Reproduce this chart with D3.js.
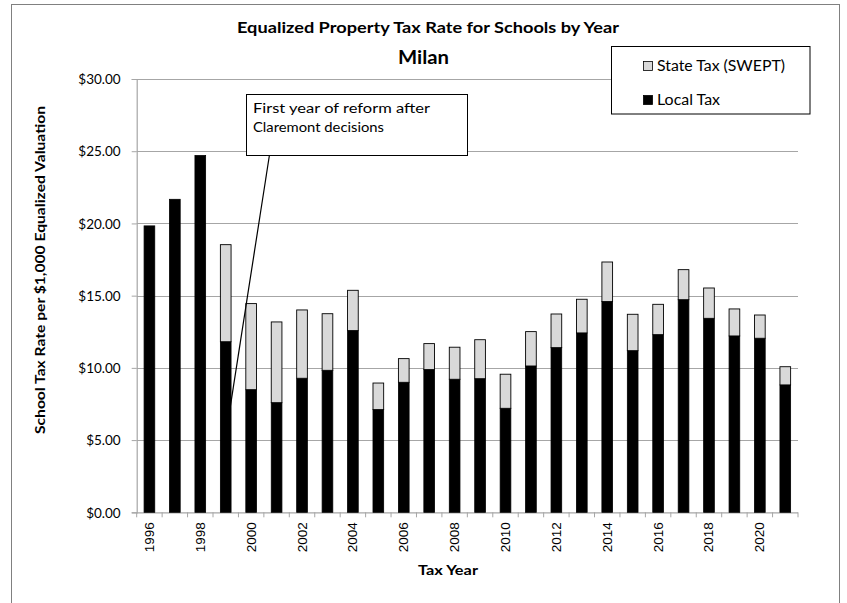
<!DOCTYPE html>
<html>
<head>
<meta charset="utf-8">
<script src="https://cdn.jsdelivr.net/npm/d3@7"></script>
<style>
  html, body { margin: 0; padding: 0; background: #fff; }
  svg { display: block; }
  text { fill: #000; }
</style>
</head>
<body>
<svg id="chart" width="847" height="603"></svg>
<script>
const years = [1996,1997,1998,1999,2000,2001,2002,2003,2004,2005,2006,2007,2008,2009,2010,2011,2012,2013,2014,2015,2016,2017,2018,2019,2020,2021];
const localTax = [19.83,21.67,24.70,11.81,8.49,7.59,9.28,9.83,12.58,7.11,9.00,9.88,9.21,9.25,7.20,10.13,11.40,12.42,14.59,11.19,12.30,14.72,13.43,12.21,12.05,8.82];
const stateTax = [0,0,0,6.72,5.96,5.59,4.73,3.92,2.79,1.84,1.64,1.80,2.22,2.70,2.36,2.38,2.33,2.33,2.74,2.52,2.10,2.08,2.10,1.87,1.61,1.26];
const yTicks = [0,5,10,15,20,25,30];
const seriesNames = ["State Tax (SWEPT)", "Local Tax"];
const titleText = "Equalized Property Tax Rate for Schools by Year";
const subtitleText = "Milan";
const yLabel = "School Tax Rate per $1,000 Equalized Valuation";
const xLabel = "Tax Year";
const noteLines = ["First year of reform after", "Claremont decisions"];
const noteYear = 1999;
const noteValue = 5.5;

const FONT = "Lato, 'Open Sans', sans-serif";
const svg = d3.select("#chart");
const m = {left: 136.7, right: 798, top: 79, bottom: 512.3};

const x = d3.scaleBand().domain(years).range([m.left, m.right]).paddingInner(0.58).paddingOuter(0.29);
const y = d3.scaleLinear().domain([0, 30]).range([m.bottom, m.top]);

// outer border
svg.append("rect").attr("x", 11.5).attr("y", 4.5).attr("width", 828).attr("height", 640)
  .attr("fill", "none").attr("stroke", "#808080").attr("stroke-width", 1);

// gridlines
svg.append("g").selectAll("line").data(yTicks.filter(d => d > 0)).join("line")
  .attr("x1", m.left).attr("x2", m.right)
  .attr("y1", d => Math.round(y(d)) + 0.5).attr("y2", d => Math.round(y(d)) + 0.5)
  .attr("stroke", "#a6a6a6").attr("stroke-width", 1.2);

// y axis
const yAxis = d3.axisLeft(y).tickValues(yTicks).tickSize(5).tickFormat(d => "$" + d3.format(".2f")(d));
const gy = svg.append("g").attr("transform", `translate(${m.left},0)`).call(yAxis);
gy.select(".domain").attr("stroke", "#a6a6a6").attr("stroke-width", 1.2);
gy.selectAll(".tick line").attr("stroke", "#a6a6a6");
gy.selectAll(".tick text").style("font-family", FONT).style("font-size", "13.5px").attr("fill", "#000")
  .attr("x", -16).attr("dy", "0.35em");

// x axis
const gx = svg.append("g").attr("transform", `translate(0,${m.bottom})`);
gx.append("line").attr("x1", m.left).attr("x2", m.right).attr("y1", 0.5).attr("y2", 0.5)
  .attr("stroke", "#a6a6a6").attr("stroke-width", 1.2);
const step = x.step();
const bounds = d3.range(years.length + 1).map(i => m.left + i * step);
gx.selectAll("line.tk").data(bounds).join("line").attr("class", "tk")
  .attr("x1", d => d).attr("x2", d => d).attr("y1", 0).attr("y2", 5)
  .attr("stroke", "#a6a6a6");
gx.selectAll("text").data(years.filter((d, i) => i % 2 === 0)).join("text")
  .attr("transform", d => `translate(${x(d) + x.bandwidth() / 2 + 4.5},10) rotate(-90)`)
  .attr("text-anchor", "end")
  .style("font-family", "'Liberation Sans', Arial, sans-serif")
  .style("font-size", "13px")
  .attr("textLength", 30).attr("lengthAdjust", "spacingAndGlyphs")
  .text(d => d);

// bars
const stack = years.map((yr, i) => ({year: yr, local: localTax[i], state: stateTax[i]}));
const gb = svg.append("g");
gb.selectAll("rect.local").data(stack).join("rect").attr("class", "local")
  .attr("x", d => x(d.year)).attr("width", x.bandwidth())
  .attr("y", d => y(d.local)).attr("height", d => y(0) - y(d.local))
  .attr("fill", "#000").attr("stroke", "#000").attr("stroke-width", 0.8);
gb.selectAll("rect.state").data(stack.filter(d => d.state > 0)).join("rect").attr("class", "state")
  .attr("x", d => x(d.year)).attr("width", x.bandwidth())
  .attr("y", d => y(d.local + d.state)).attr("height", d => y(d.local) - y(d.local + d.state))
  .attr("fill", "#d9d9d9").attr("stroke", "#000").attr("stroke-width", 0.9);

function txt(sel) { return sel.style("font-family", FONT); }

// titles
txt(svg.append("text")).attr("x", 428).attr("y", 33).attr("text-anchor", "middle")
  .style("font-size", "16px").style("font-weight", "bold").attr("textLength", 382).attr("lengthAdjust", "spacingAndGlyphs")
  .text(titleText);
txt(svg.append("text")).attr("x", 423.5).attr("y", 64).attr("text-anchor", "middle")
  .style("font-size", "18px").style("font-weight", "bold").attr("textLength", 51).attr("lengthAdjust", "spacingAndGlyphs")
  .text(subtitleText);
txt(svg.append("text")).attr("transform", "translate(45,270) rotate(-90)").attr("text-anchor", "middle")
  .style("font-size", "14px").style("font-weight", "bold").attr("textLength", 328).attr("lengthAdjust", "spacingAndGlyphs")
  .text(yLabel);
txt(svg.append("text")).attr("x", 448).attr("y", 575).attr("text-anchor", "middle")
  .style("font-size", "14px").style("font-weight", "bold").attr("textLength", 60).attr("lengthAdjust", "spacingAndGlyphs")
  .text(xLabel);

// legend
const lg = svg.append("g");
lg.append("rect").attr("x", 611.5).attr("y", 46.5).attr("width", 198.5).attr("height", 67.5)
  .attr("fill", "#fff").attr("stroke", "#000").attr("stroke-width", 1);
const legendFills = ["#d9d9d9", "#000"];
seriesNames.forEach((n, i) => {
  const ly = 63 + i * 34;
  lg.append("rect").attr("x", 643.5).attr("y", ly - 1.5).attr("width", 9).attr("height", 9)
    .attr("fill", legendFills[i]).attr("stroke", "#000").attr("stroke-width", 0.8);
  txt(lg.append("text")).attr("x", 657).attr("y", ly + 8).style("font-size", "14.5px")
    .attr("textLength", i === 0 ? 128 : 63).attr("lengthAdjust", "spacingAndGlyphs").text(n);
});

// annotation
const ax = x(noteYear) + x.bandwidth() / 2 + 0.5;
const ay = y(noteValue);
const sx = 269.3, sy = 156;
svg.append("line").attr("x1", sx).attr("y1", sy).attr("x2", ax).attr("y2", ay)
  .attr("stroke", "#000").attr("stroke-width", 1.2);
const ang = Math.atan2(ay - sy, ax - sx);
const ah = 5;
svg.append("path")
  .attr("d", `M${ax - ah * Math.cos(ang - 0.5)},${ay - ah * Math.sin(ang - 0.5)} L${ax},${ay} L${ax - ah * Math.cos(ang + 0.5)},${ay - ah * Math.sin(ang + 0.5)}`)
  .attr("fill", "none").attr("stroke", "#000").attr("stroke-width", 1.2);
svg.append("rect").attr("x", 246.5).attr("y", 94.5).attr("width", 221).attr("height", 61)
  .attr("fill", "#fff").attr("stroke", "#000").attr("stroke-width", 1);
noteLines.forEach((t, i) => {
  txt(svg.append("text")).attr("x", 253).attr("y", 113 + i * 19).style("font-size", "13.5px")
    .attr("textLength", i === 0 ? 177 : 131).attr("lengthAdjust", "spacingAndGlyphs").text(t);
});
</script>
</body>
</html>
